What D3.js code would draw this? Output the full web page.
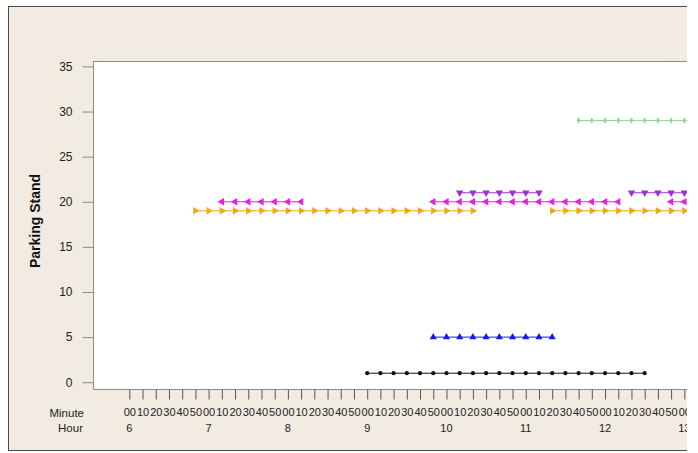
<!DOCTYPE html>
<html>
<head>
<meta charset="utf-8">
<script src="https://cdn.jsdelivr.net/npm/d3@7"></script>
<style>
  body { margin: 0; background: #fff; }
  svg { display: block; }
  text { font-family: "Liberation Sans", Arial, sans-serif; fill: #222; }
</style>
</head>
<body>
<div id="chart"></div>
<script>
// Parking stand occupancy (time of day, every 10 min)
const stands = [1, 5, 19, 20, 21, 29];
const minuteLabels = ["00", "10", "20", "30", "40", "50"];
const hourLabels = [6, 7, 8, 9, 10, 11, 12, 13];
const yTicks = [0, 5, 10, 15, 20, 25, 30, 35];

// stand 1
const blackTimes = ["9:00","9:10","9:20","9:30","9:40","9:50","10:00","10:10","10:20","10:30","10:40",
  "10:50","11:00","11:10","11:20","11:30","11:40","11:50","12:00","12:10","12:20","12:30"];
// stand 5
const blueTimes = ["9:50","10:00","10:10","10:20","10:30","10:40","10:50","11:00","11:10","11:20"];
// stand 19
const orangeTimesA = ["6:50","7:00","7:10","7:20","7:30","7:40","7:50","8:00","8:10","8:20","8:30",
  "8:40","8:50","9:00","9:10","9:20","9:30","9:40","9:50","10:00","10:10","10:20"];
const orangeTimesB = ["11:20","11:30","11:40","11:50","12:00","12:10","12:20","12:30","12:40","12:50","13:00","13:10"];
// stand 20
const magentaTimesA = ["7:10","7:20","7:30","7:40","7:50","8:00","8:10"];
const magentaTimesB = ["9:50","10:00","10:10","10:20","10:30","10:40","10:50","11:00","11:10","11:20",
  "11:30","11:40","11:50","12:00","12:10"];
const magentaTimesC = ["12:50","13:00","13:10"];
// stand 21
const purpleTimesA = ["10:10","10:20","10:30","10:40","10:50","11:00","11:10"];
const purpleTimesB = ["12:20","12:30","12:40","12:50","13:00","13:10"];
// stand 29
const greenTimes = ["11:40","11:50","12:00","12:10","12:20","12:30","12:40","12:50","13:00","13:10"];

const toMin = t => { const [h, m] = t.split(":"); return +h * 60 + +m; };

const series = [
  { stand: stands[0], color: "#111111", shape: "circle",  segs: [blackTimes] },
  { stand: stands[1], color: "#1a1ae6", shape: "up",      segs: [blueTimes] },
  { stand: stands[2], color: "#f2a521", shape: "right",   segs: [orangeTimesA, orangeTimesB] },
  { stand: stands[3], color: "#e81ee8", shape: "left",    segs: [magentaTimesA, magentaTimesB, magentaTimesC] },
  { stand: stands[4], color: "#9933cc", shape: "down",    segs: [purpleTimesA, purpleTimesB] },
  { stand: stands[5], color: "#8ed88e", shape: "diamond", segs: [greenTimes] }
];

const svgWidth = 687;
const svgHeight = 453;

const svg = d3.select("#chart").append("svg")
  .attr("width", svgWidth)
  .attr("height", svgHeight);

// beige panel
svg.append("rect")
  .attr("x", 0).attr("y", 0).attr("width", svgWidth).attr("height", svgHeight)
  .attr("fill", "#ffffff");
svg.append("rect")
  .attr("x", 8.5).attr("y", 6.5).attr("width", 720).attr("height", 444)
  .attr("fill", "#f1ebe2")
  .attr("stroke", "#4a4a4a");

const plot = { left: 93, top: 61, right: 760, bottom: 389 };

const x = d3.scaleLinear().domain([332.5, 807]).range([plot.left, 720]);
const y = d3.scaleLinear().domain([-0.75, 35.6]).range([plot.bottom, plot.top]);

// plot area
svg.append("rect")
  .attr("x", plot.left + 0.5).attr("y", plot.top + 0.5)
  .attr("width", plot.right - plot.left).attr("height", plot.bottom - plot.top)
  .attr("fill", "#ffffff")
  .attr("stroke", "#8c8c8c");

// y axis
const yAxis = svg.append("g")
  .attr("transform", `translate(${plot.left + 0.5},0)`)
  .call(d3.axisLeft(y).tickValues(yTicks).tickSize(11).tickPadding(10));
yAxis.select(".domain").remove();
yAxis.selectAll("line").attr("stroke", "#8c8c8c");
yAxis.selectAll("text").style("font-size", "12px").style("fill", "#222");

svg.append("text")
  .attr("transform", "rotate(-90)")
  .attr("x", -221).attr("y", 40)
  .attr("text-anchor", "middle")
  .style("font-weight", "bold")
  .style("font-size", "14px")
  .style("fill", "#111")
  .text("Parking Stand");

// x axis: minute ticks every 10 minutes
const minuteTicks = d3.range(360, 790, 10);
const xAxis = svg.append("g")
  .attr("transform", `translate(0,${plot.bottom + 0.5})`)
  .call(d3.axisBottom(x).tickValues(minuteTicks).tickSize(10).tickPadding(9)
    .tickFormat(d => minuteLabels[(d % 60) / 10]));
xAxis.select(".domain").remove();
xAxis.selectAll("line").attr("stroke", "#555");
xAxis.selectAll("text").style("font-size", "11px").style("fill", "#222");

svg.append("g").selectAll("text")
  .data(hourLabels)
  .join("text")
  .attr("x", d => x(d * 60))
  .attr("y", 432)
  .attr("text-anchor", "middle")
  .style("font-size", "11px")
  .text(d => d);

svg.append("text").attr("x", 84).attr("y", 417).attr("text-anchor", "end")
  .style("font-size", "11.5px").text("Minute");
svg.append("text").attr("x", 83).attr("y", 432).attr("text-anchor", "end")
  .style("font-size", "11.5px").text("Hour");

// series
const line = d3.line().x(d => x(toMin(d.t))).y(d => y(d.s));

const marker = {
  circle: d3.symbol().type(d3.symbolCircle).size(14),
  up: d3.symbol().type(d3.symbolTriangle).size(22),
  diamond: d3.symbol().type(d3.symbolDiamond).size(12)
};
const triPath = d3.symbol().type(d3.symbolTriangle).size(24)();

series.forEach(s => {
  const g = svg.append("g");
  s.segs.forEach(seg => {
    const pts = seg.map(t => ({ t: t, s: s.stand }));
    g.append("path")
      .attr("d", line(pts))
      .attr("fill", "none")
      .attr("stroke", s.color)
      .attr("stroke-width", 1);
    g.selectAll(null)
      .data(pts)
      .join("path")
      .attr("d", s.shape === "right" || s.shape === "left" || s.shape === "down" ? triPath : marker[s.shape]())
      .attr("transform", d => {
        const rot = s.shape === "right" ? 90 : s.shape === "left" ? -90 : s.shape === "down" ? 180 : 0;
        return `translate(${x(toMin(d.t))},${y(d.s)}) rotate(${rot})`;
      })
      .attr("fill", s.color);
  });
});
</script>
</body>
</html>
